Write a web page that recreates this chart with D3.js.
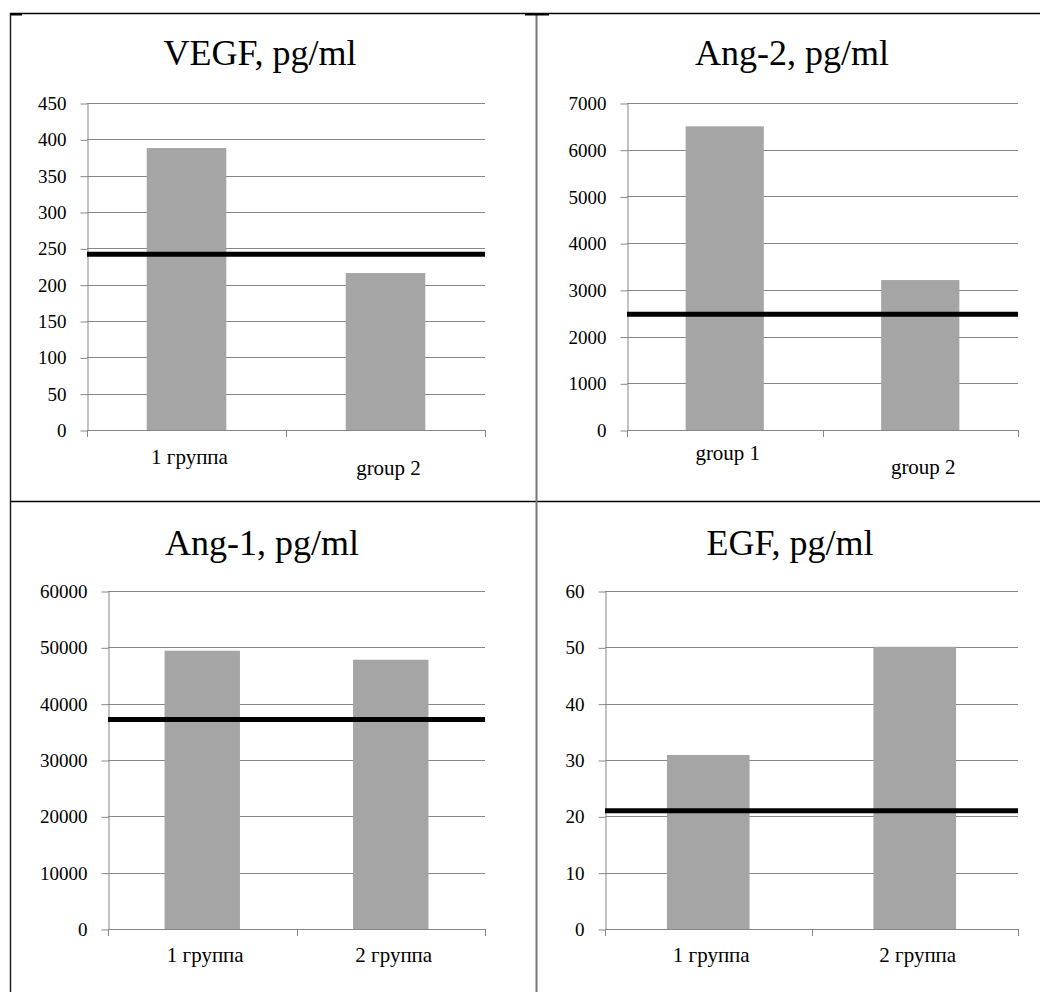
<!DOCTYPE html>
<html>
<head>
	<meta charset="utf-8">
	<title>VEGF, Ang-2, Ang-1, EGF</title>
	<style>
		html, body {
			margin: 0;
			padding: 0;
			background: white;
		}
		svg text {
			font-family: "Liberation Serif", "Times New Roman", serif !important;
		}
	</style>
</head>
<body>

<svg class="chart" width="1040" height="992"></svg>

<script src="https://d3js.org/d3.v7.min.js"></script>
<script>

// data, one entry per panel (top-left, top-right, bottom-left, bottom-right)
var titles = ['VEGF, pg/ml', 'Ang-2, pg/ml', 'Ang-1, pg/ml', 'EGF, pg/ml']

var categories = [
	['1 группа', 'group 2'],
	['group 1', 'group 2'],
	['1 группа', '2 группа'],
	['1 группа', '2 группа']
]

var values = [
	[388, 216],
	[6500, 3210],
	[49400, 47800],
	[30.9, 50.1]
]

// the thick black line (reference level)
var refValues = [242, 2480, 37200, 21]

var yTicks = [
	[0, 50, 100, 150, 200, 250, 300, 350, 400, 450],
	[0, 1000, 2000, 3000, 4000, 5000, 6000, 7000],
	[0, 10000, 20000, 30000, 40000, 50000, 60000],
	[0, 10, 20, 30, 40, 50, 60]
]


// layout of each panel
var panels = [
	{ left: 87, right: 485, top: 103, bottom: 430, titleX: 260, titleY: 65, labelDy: [34, 45] },
	{ left: 627, right: 1018, top: 103, bottom: 430, titleX: 792, titleY: 65, labelDy: [30, 44] },
	{ left: 108, right: 485, top: 591, bottom: 929, titleX: 262, titleY: 555, labelDy: [33, 33] },
	{ left: 605, right: 1018, top: 591, bottom: 929, titleX: 790, titleY: 555, labelDy: [33, 33] }
]

var cfg = {
	gridColor: '#878787',
	barColor: '#a5a5a5',
	titleSize: 36,
	tickSize: 19,
	labelSize: 21,
	refWidth: 5,
}

var svg = d3.select('.chart')

// table lines around the four charts
var frame = svg.append('g')
frame.append('line').attr('x1', 10).attr('x2', 1040).attr('y1', 13.5).attr('y2', 13.5)
	.attr('stroke', '#000').attr('stroke-width', 1.5)
frame.append('line').attr('x1', 10).attr('x2', 1040).attr('y1', 501.5).attr('y2', 501.5)
	.attr('stroke', '#000').attr('stroke-width', 1.5)
frame.append('line').attr('x1', 10.5).attr('x2', 10.5).attr('y1', 13).attr('y2', 992)
	.attr('stroke', '#222').attr('stroke-width', 1.5)
frame.append('line').attr('x1', 536.5).attr('x2', 536.5).attr('y1', 14).attr('y2', 992)
	.attr('stroke', '#777').attr('stroke-width', 2)
// little thicker bits on the top border
frame.append('rect').attr('x', 10).attr('y', 13).attr('width', 12).attr('height', 2.5).attr('fill', '#000')
frame.append('rect').attr('x', 525).attr('y', 13).attr('width', 24).attr('height', 2.5).attr('fill', '#000')


panels.forEach(function(p, i) {
	var g = svg.append('g')

	var y = d3.scaleLinear()
		.domain([0, d3.max(yTicks[i])])
		.range([p.bottom, p.top])

	var x = d3.scaleBand()
		.domain(categories[i])
		.range([p.left, p.right])
		.paddingInner(0.6)
		.paddingOuter(0.3)

	// title
	g.append('text')
		.attr('x', p.titleX)
		.attr('y', p.titleY)
		.attr('text-anchor', 'middle')
		.attr('font-size', cfg.titleSize)
		.text(titles[i])

	// horizontal gridlines
	g.selectAll('.grid')
		.data(yTicks[i].slice(1))
		.enter().append('line')
			.attr('x1', p.left)
			.attr('x2', p.right)
			.attr('y1', function(d) { return Math.round(y(d)) + 0.5 })
			.attr('y2', function(d) { return Math.round(y(d)) + 0.5 })
			.attr('stroke', cfg.gridColor)
			.attr('stroke-width', 1)

	// bars
	g.selectAll('.bar')
		.data(values[i])
		.enter().append('rect')
			.attr('x', function(d, j) { return x(categories[i][j]) })
			.attr('y', function(d) { return y(d) })
			.attr('width', x.bandwidth())
			.attr('height', function(d) { return y(0) - y(d) })
			.attr('fill', cfg.barColor)

	// y axis
	var yAxis = d3.axisLeft(y)
		.tickValues(yTicks[i])
		.tickFormat(d3.format('d'))
		.tickSize(7)
		.tickSizeOuter(0)
		.tickPadding(14)
	var ya = g.append('g')
		.attr('transform', 'translate(' + (p.left + 0.5) + ',0.5)')
		.call(yAxis)
	ya.select('.domain').attr('stroke', cfg.gridColor)
	ya.selectAll('.tick line').attr('stroke', cfg.gridColor)
	ya.selectAll('.tick text')
		.attr('font-size', cfg.tickSize)
		.attr('fill', '#000')

	// x axis: line plus ticks on the category boundaries
	var step = x.step()
	var bounds = [p.left, p.left + step, p.right]
	g.append('line')
		.attr('x1', p.left).attr('x2', p.right)
		.attr('y1', y(0) + 0.5).attr('y2', y(0) + 0.5)
		.attr('stroke', cfg.gridColor)
	g.selectAll('.xtick')
		.data(bounds)
		.enter().append('line')
			.attr('x1', function(d) { return Math.round(d) + 0.5 })
			.attr('x2', function(d) { return Math.round(d) + 0.5 })
			.attr('y1', y(0))
			.attr('y2', y(0) + 7)
			.attr('stroke', cfg.gridColor)

	g.selectAll('.xlabel')
		.data(categories[i])
		.enter().append('text')
			.attr('x', function(d) { return x(d) + x.bandwidth() / 2 + 3 })
			.attr('y', function(d, j) { return y(0) + p.labelDy[j] })
			.attr('text-anchor', 'middle')
			.attr('font-size', cfg.labelSize)
			.text(function(d) { return d })

	// reference level, drawn over the bars
	g.append('line')
		.attr('x1', p.left)
		.attr('x2', p.right)
		.attr('y1', y(refValues[i]))
		.attr('y2', y(refValues[i]))
		.attr('stroke', '#000')
		.attr('stroke-width', cfg.refWidth)
})

</script>

</body>
</html>
